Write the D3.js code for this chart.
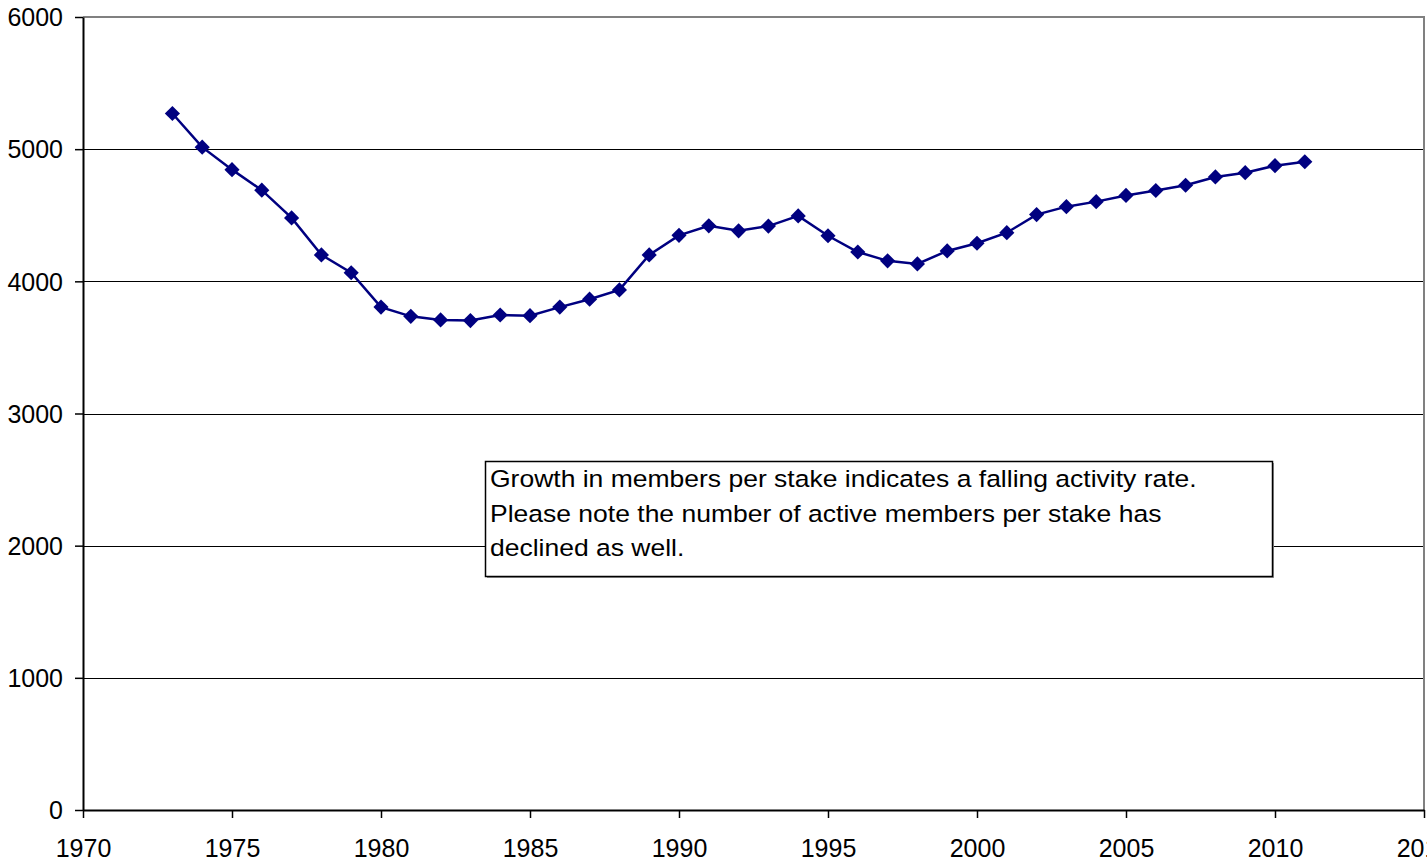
<!DOCTYPE html>
<html>
<head>
<meta charset="utf-8">
<script src="https://cdn.jsdelivr.net/npm/d3@7"></script>
<style>
  html, body { margin: 0; padding: 0; background: #fff; }
  svg { display: block; font-family: "Liberation Sans", Arial, sans-serif; }
</style>
</head>
<body>
<svg id="chart"></svg>
<script>
// members per stake
var years = [1973, 1974, 1975, 1976, 1977, 1978, 1979, 1980, 1981, 1982,
  1983, 1984, 1985, 1986, 1987, 1988, 1989, 1990, 1991, 1992,
  1993, 1994, 1995, 1996, 1997, 1998, 1999, 2000, 2001, 2002,
  2003, 2004, 2005, 2006, 2007, 2008, 2009, 2010, 2011]
var membersPerStake = [5270, 5015, 4845, 4690, 4480, 4200, 4065, 3805, 3735, 3708,
  3703, 3745, 3740, 3805, 3865, 3935, 4200, 4348, 4420, 4382,
  4418, 4495, 4345, 4222, 4155, 4132, 4230, 4288, 4368, 4505,
  4565, 4603, 4650, 4687, 4727, 4790, 4822, 4875, 4905]
var yTicks = [0, 1000, 2000, 3000, 4000, 5000, 6000]
var xTicks = [1970, 1975, 1980, 1985, 1990, 1995, 2000, 2005, 2010, 2015]
var noteLines = [
  'Growth in members per stake indicates a falling activity rate.',
  'Please note the number of active members per stake has',
  'declined as well.'
]

;(function () {
  var width = 1427
  var height = 866
  var plotL = 83, plotR = 1424, plotT = 17, plotB = 810

  var svg = d3.select('#chart').attr('width', width).attr('height', height)

  var x = d3.scaleLinear().domain([1970, 2015]).range([plotL, plotR])
  var y = d3.scaleLinear().domain([0, 6000]).range([plotB, plotT])

  // gridlines
  svg.append('g').selectAll('line').data(yTicks.filter(function (d) { return d > 0 && d < 6000 }))
    .enter().append('line')
    .attr('x1', plotL).attr('x2', plotR)
    .attr('y1', function (d) { return Math.round(y(d)) + 0.5 }).attr('y2', function (d) { return Math.round(y(d)) + 0.5 })
    .attr('stroke', '#000').attr('stroke-width', 1)

  // plot frame top/right in gray
  svg.append('path')
    .attr('d', 'M' + plotL + ',' + plotT + 'H' + plotR + 'V' + plotB)
    .attr('fill', 'none').attr('stroke', '#808080').attr('stroke-width', 2)

  // axes
  var yAxis = d3.axisLeft(y).tickValues(yTicks).tickFormat(d3.format('d')).tickSizeInner(8).tickSizeOuter(0).tickPadding(12)
  var xAxis = d3.axisBottom(x).tickValues(xTicks).tickFormat(d3.format('d')).tickSizeInner(8).tickSizeOuter(0).tickPadding(21)

  var gy = svg.append('g').attr('transform', 'translate(' + plotL + ',0)').call(yAxis)
  var gx = svg.append('g').attr('transform', 'translate(0,' + plotB + ')').call(xAxis)
  ;[gx, gy].forEach(function (g) {
    g.select('.domain').attr('stroke', '#000').attr('stroke-width', 2)
    g.selectAll('.tick line').attr('stroke', '#000').attr('stroke-width', 1.5)
    g.selectAll('.tick text').attr('fill', '#000').attr('font-size', '25px')
      .attr('font-family', '"Liberation Sans", Arial, sans-serif')
  })
  gy.selectAll('.tick text').attr('dy', '0.35em')

  // series line
  var pts = years.map(function (d, i) { return [d, membersPerStake[i]] })
  var line = d3.line().x(function (d) { return x(d[0]) }).y(function (d) { return y(d[1]) })
  svg.append('path').datum(pts).attr('d', line)
    .attr('fill', 'none').attr('stroke', '#000080').attr('stroke-width', 2.5)

  // diamond markers
  var diamond = d3.symbol().type(d3.symbolSquare).size(115)
  svg.append('g').selectAll('path').data(pts).enter().append('path')
    .attr('d', diamond)
    .attr('transform', function (d) { return 'translate(' + x(d[0]) + ',' + y(d[1]) + ') rotate(45)' })
    .attr('fill', '#000080')

  // note box (slight gray shadow edge like the original)
  var note = svg.append('g')
  note.append('rect')
    .attr('x', 487).attr('y', 463).attr('width', 787).attr('height', 115)
    .attr('fill', '#999')
  note.append('rect')
    .attr('x', 485.5).attr('y', 461.5).attr('width', 787).attr('height', 115)
    .attr('fill', '#fff').attr('stroke', '#000').attr('stroke-width', 1.5)
  note.selectAll('text').data(noteLines).enter().append('text')
    .attr('transform', function (d, i) { return 'translate(490,' + (487 + i * 34.5) + ') scale(1.128,1)' })
    .attr('font-size', '23.5px')
    .attr('fill', '#000')
    .text(function (d) { return d })
})()
</script>
</body>
</html>
